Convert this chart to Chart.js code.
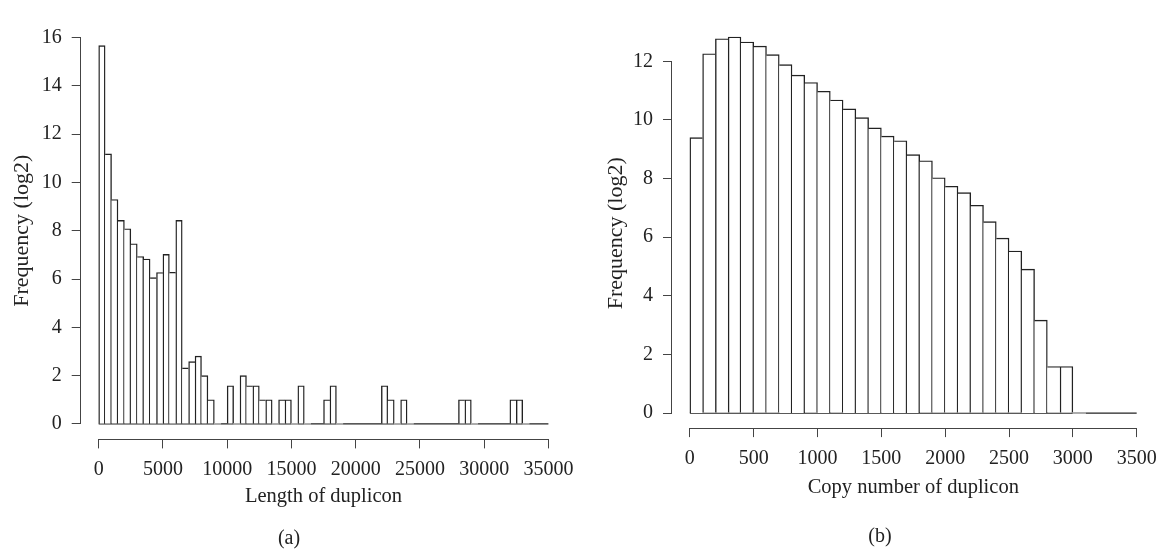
<!DOCTYPE html>
<html>
<head>
<meta charset="utf-8">
<script src="https://cdn.jsdelivr.net/npm/chart.js@4.4.0/dist/chart.umd.min.js"></script>
<style>
body { margin: 0; background: #fff; }
#page { position: relative; width: 1167px; height: 550px; overflow: hidden; font-family: "Liberation Serif", serif; }
canvas { position: absolute; top: 0; }
#chartA { left: 0; }
#chartB { left: 583px; }
.cap { position: absolute; font-size: 20px; line-height: 20px; color: #222; transform: translate(-50%, -50%); }
</style>
</head>
<body>
<div id="page">
	<canvas id="chartA" width="583" height="550"></canvas>
	<canvas id="chartB" width="584" height="550"></canvas>
	<div class="cap" style="left:289px; top:537px;">(a)</div>
	<div class="cap" style="left:880px; top:535px;">(b)</div>
</div>
<script>
// (a) length of duplicon, bins of 500
const lengthBinWidth = 500;
const lengthFreq = [
	15.66, 11.18, 9.29, 8.43, 8.08, 7.46, 6.93, 6.83, 6.06, 6.27,
	7.02, 6.28, 8.43, 2.32, 2.58, 2.81, 2.0, 1.0, 0, 0,
	1.58, 0, 2.0, 1.58, 1.58, 1.0, 1.0, 0, 1.0, 1.0,
	0, 1.58, 0, 0, 0, 1.0, 1.58, 0, 0, 0,
	0, 0, 0, 0, 1.58, 1.0, 0, 1.0, 0, 0,
	0, 0, 0, 0, 0, 0, 1.0, 1.0, 0, 0,
	0, 0, 0, 0, 1.0, 1.0, 0, 0, 0, 0
];
const lengthTicksY = [0, 2, 4, 6, 8, 10, 12, 14, 16];
const lengthTicksX = [0, 5000, 10000, 15000, 20000, 25000, 30000, 35000];

// (b) copy number of duplicon, bins of 100
const copyBinWidth = 100;
const copyFreq = [
	9.40, 12.26, 12.77, 12.83, 12.66, 12.52, 12.23, 11.89, 11.53, 11.28,
	10.98, 10.68, 10.38, 10.08, 9.73, 9.45, 9.29, 8.82, 8.61, 8.03,
	7.74, 7.52, 7.09, 6.53, 5.97, 5.53, 4.91, 3.17, 1.59, 1.59,
	0, 0, 0, 0, 0
];
const copyTicksY = [0, 2, 4, 6, 8, 10, 12];
const copyTicksX = [0, 500, 1000, 1500, 2000, 2500, 3000, 3500];

const ink = '#222';
const axisInk = '#444';
const textInk = '#222';
const font = 'Liberation Serif';
const lw = 1.4;

// R style axis line, only from first to last tick
const rAxes = {
	id: 'rAxes',
	afterDraw: function(chart) {
		const ctx = chart.ctx;
		const xs = chart.scales.x;
		const ys = chart.scales.y;
		const xt = xs.ticks;
		const yt = ys.ticks;
		const xLine = Math.round(xs.top) + 0.5;
		const yLine = Math.round(ys.right) - 0.5;
		ctx.save();
		ctx.strokeStyle = axisInk;
		ctx.lineWidth = 1;
		ctx.beginPath();
		ctx.moveTo(xs.getPixelForValue(xt[0].value), xLine);
		ctx.lineTo(xs.getPixelForValue(xt[xt.length - 1].value), xLine);
		ctx.moveTo(yLine, ys.getPixelForValue(yt[0].value));
		ctx.lineTo(yLine, ys.getPixelForValue(yt[yt.length - 1].value));
		ctx.stroke();
		ctx.restore();
	}
};

function histogram(id, freq, binWidth, ticksX, ticksY, xTitle, s) {
	const points = freq.map(function(v, i) {
		return { x: i * binWidth + binWidth / 2, y: v };
	});
	const lastEdge = freq.length * binWidth;
	const xPad = 0.04 * lastEdge;
	const yPad = 0.04 * s.yRange;

	return new Chart(document.getElementById(id).getContext('2d'), {
		type: 'bar',
		data: {
			datasets: [{
				data: points,
				backgroundColor: '#fff',
				borderColor: ink,
				// shared edge is drawn once, by the taller bar
				borderWidth: function(c) {
					const d = c.dataset.data;
					const i = c.dataIndex;
					const cur = d[i].y;
					const prev = i > 0 ? d[i - 1].y : 0;
					const next = i + 1 < d.length ? d[i + 1].y : 0;
					return { left: prev <= cur ? lw : 0, top: lw, bottom: 0, right: next < cur ? lw : 0 };
				},
				barPercentage: 1,
				categoryPercentage: 1
			}, {
				type: 'line',
				data: [{ x: 0, y: 0 }, { x: lastEdge, y: 0 }],
				borderColor: ink,
				borderWidth: 1.2,
				pointRadius: 0
			}]
		},
		options: {
			responsive: false,
			animation: false,
			layout: { padding: s.padding },
			plugins: { legend: { display: false }, tooltip: { enabled: false } },
			scales: {
				x: {
					type: 'linear',
					offset: false,
					min: -xPad,
					max: lastEdge + xPad,
					afterFit: function(sc) { sc.height = s.xHeight; },
					afterBuildTicks: function(sc) {
						sc.ticks = ticksX.map(function(v) { return { value: v }; });
					},
					grid: { offset: false, drawOnChartArea: false, tickLength: 9, color: axisInk },
					border: { display: false },
					ticks: {
						autoSkip: false,
						maxRotation: 0,
						padding: s.xTickPad,
						color: textInk,
						font: { family: font, size: 20 },
						callback: function(v) { return String(v); }
					},
					title: {
						display: true,
						text: xTitle,
						color: textInk,
						font: { family: font, size: 20.5 },
						padding: { top: 0, bottom: s.xTitlePad }
					}
				},
				y: {
					min: -yPad,
					max: s.yRange + yPad,
					afterFit: function(sc) { sc.width = s.yWidth; },
					afterBuildTicks: function(sc) {
						sc.ticks = ticksY.map(function(v) { return { value: v }; });
					},
					grid: { drawOnChartArea: false, tickLength: 9, color: axisInk },
					border: { display: false },
					ticks: {
						padding: 10,
						color: textInk,
						font: { family: font, size: 20 },
						callback: function(v) { return String(v); }
					},
					title: {
						display: true,
						text: 'Frequency (log2)' + s.ySpace,
						color: textInk,
						font: { family: font, size: 22 },
						padding: { top: s.yTitlePad, bottom: 0 }
					}
				}
			}
		},
		plugins: [rAxes]
	});
}

histogram('chartA', lengthFreq, lengthBinWidth, lengthTicksX, lengthTicksY, 'Length of duplicon', {
	yRange: 16,
	padding: { left: 0, right: 16, top: 4.6, bottom: 0 },
	xHeight: 110.6,
	yWidth: 80.7,
	xTickPad: 9,
	xTitlePad: 41,
	yTitlePad: 9.3,
	ySpace: ''
});

histogram('chartB', copyFreq, copyBinWidth, copyTicksX, copyTicksY, 'Copy number of duplicon', {
	yRange: 12.83,
	padding: { left: 0, right: 8.7, top: 2.1, bottom: 0 },
	xHeight: 121.9,
	yWidth: 89,
	xTickPad: 10,
	xTitlePad: 50,
	yTitlePad: 19.8,
	ySpace: '\u00a0\u00a0\u00a0'
});
</script>
</body>
</html>
